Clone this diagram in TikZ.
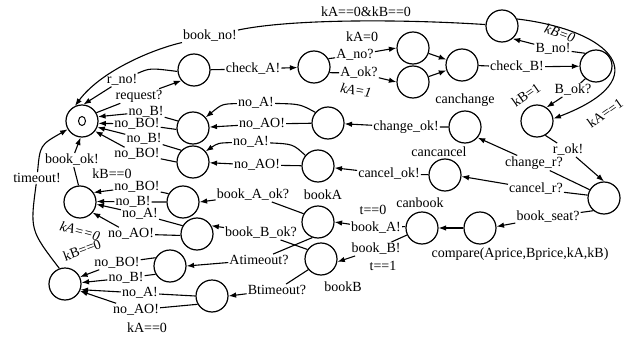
\documentclass[tikz,border=0pt]{standalone}
\usepackage{fontspec}
\setmainfont{Liberation Serif}
\usetikzlibrary{arrows.meta,shapes.geometric}
\begin{document}
\begin{tikzpicture}[x=1pt,y=-1pt,
  st/.style={circle,draw,line width=1.2pt,minimum size=32pt,inner sep=0pt},
  lab/.style={inner sep=1pt,font=\fontsize{14}{14}\selectfont},
  gd/.style={inner sep=1pt,font=\fontsize{14}{14}\selectfont},
  arr/.style={line width=1.1pt,-{Latex[length=7.5pt,width=5.5pt]}},
]
\useasboundingbox (0,0) rectangle (629,337);
% states
\node[st] (I) at (82,121) {};
\node[ellipse,draw,line width=1pt,minimum width=7pt,minimum height=9pt,inner sep=0pt] (Iin) at (82,121) {};
\node[st] (R) at (194,70) {};
\node[st] (CA) at (314,67) {};
\node[st] (AN) at (413,48) {};
\node[st] (AO) at (413,82) {};
\node[st] (M) at (462,65) {};
\node[st] (TR) at (502,26) {};
\node[st] (CB) at (596,66) {};
\node[st] (BK) at (537,121) {};
\node[st] (BIG) at (604,198) {};
\node[st] (CC) at (465,127) {};
\node[st] (CN) at (445,175) {};
\node[st] (CMP) at (480,228) {};
\node[st] (CBK) at (422,228) {};
\node[st] (BA) at (318,222) {};
\node[st] (BB) at (321,259) {};
\node[st] (R2R) at (328,123) {};
\node[st] (R2L) at (193,128) {};
\node[st] (R3R) at (318,166) {};
\node[st] (R3L) at (193,162) {};
\node[st] (BAO) at (183,202) {};
\node[st] (BBO) at (197,234) {};
\node[st] (AT) at (170,266) {};
\node[st] (BT) at (212,296) {};
\node[st] (LM) at (80,202) {};
\node[st] (BL) at (65,284) {};
% labels on edges
\node[lab] (lbn) at (210,36) {book\_no!};
\node[lab] (lrno) at (122,80) {r\_no!};
\node[lab] (lreq) at (139,96) {request?};
\node[lab] (lca) at (253,69) {check\_A!};
\node[lab] (lan) at (355,55) {A\_no?};
\node[lab] (lao) at (359,73) {A\_ok?};
\node[lab] (lcb) at (517,67) {check\_B!};
\node[lab] (lbno) at (553,49) {B\_no!};
\node[lab] (lbok) at (573,90) {B\_ok?};
\node[lab] (lrok) at (568,150) {r\_ok!};
\node[lab] (lchr) at (534,163) {change\_r?};
\node[lab] (lcar) at (536,189) {cancel\_r?};
\node[lab] (lbs) at (548,217) {book\_seat?};
\node[lab] (lba) at (376,228) {book\_A!};
\node[lab] (lbb) at (376,249) {book\_B!};
\node[lab] (lchok) at (406,127) {change\_ok!};
\node[lab] (lcaok) at (389,174) {cancel\_ok!};
\node[lab] (l2a) at (256,103) {no\_A!};
\node[lab] (l2ao) at (262,124) {no\_AO!};
\node[lab] (l3a) at (251,142) {no\_A!};
\node[lab] (l3ao) at (257,165) {no\_AO!};
\node[lab] (l2b) at (146,112) {no\_B!};
\node[lab] (l2bo) at (137,124) {no\_BO!};
\node[lab] (l3b) at (144,139) {no\_B!};
\node[lab] (l3bo) at (137,154) {no\_BO!};
\node[lab] (lbok2) at (72,160) {book\_ok!};
\node[lab] (lto) at (37,178) {timeout!};
\node[lab] (l4bo) at (137,187) {no\_BO!};
\node[lab] (l4b) at (133,202) {no\_B!};
\node[lab] (l4a) at (140,214) {no\_A!};
\node[lab] (l4ao) at (131,234) {no\_AO!};
\node[lab] (lbaok) at (253,195) {book\_A\_ok?};
\node[lab] (lbbok) at (261,233) {book\_B\_ok?};
\node[lab] (lat) at (259,260) {Atimeout?};
\node[lab] (lbt) at (277,290) {Btimeout?};
\node[lab] (l5bo) at (117,263) {no\_BO!};
\node[lab] (l5b) at (126,278) {no\_B!};
\node[lab] (l5a) at (140,293) {no\_A!};
\node[lab] (l5ao) at (136,310) {no\_AO!};
% guards, updates, names
\node[gd] (g1) at (366,12) {kA==0\&kB==0};
\node[gd] (g2) at (362,37) {kA=0};
\node[gd,rotate=-10] (g3) at (356,90) {\itshape kA=1};
\node[gd,rotate=-20] (g4) at (560,33) {\itshape kB=0};
\node[gd,rotate=35] (g5) at (526,95) {kB=1};
\node[gd,rotate=35] (g6) at (605,113) {kA==1};
\node[gd] (t1) at (465,100) {canchange};
\node[gd] (t2) at (439,152) {cancancel};
\node[gd] (t3) at (420,203) {canbook};
\node[gd] (t4) at (520,254) {compare(Aprice,Bprice,kA,kB)};
\node[gd] (g7) at (373,210) {t==0};
\node[gd] (g8) at (383,266) {t==1};
\node[gd] (t5) at (323,195) {bookA};
\node[gd] (t6) at (343,287) {bookB};
\node[gd] (g9) at (112,174) {kB==0};
\node[gd,rotate=-15] (g10) at (80,231) {\itshape kA==0};
\node[gd,rotate=20] (g11) at (82,250) {kB==0};
\node[gd] (g12) at (147,328) {kA==0};
% edges
\draw[arr] (TR.175) .. controls (400,19) and (290,19) .. (lbn) .. controls (150,50) and (100,72) .. (I.115);
\draw[arr] (R.185) .. controls (150,68) .. (lrno) -- (I.85);
\draw[arr] (I.30) -- (lreq) -- (R.220);
\draw[arr] (R) -- (lca) -- (CA);
\draw[arr] (CA.30) -- (lan) -- (AN.west);
\draw[arr] (CA.-20) -- (lao) -- (AO.west);
\draw[arr] (AN) -- (M);
\draw[arr] (AO) -- (M);
\draw[arr] (M) -- (lcb) -- (CB);
\draw[arr] (CB.130) -- (lbno) -- (TR.-50);
\draw[arr] (CB.230) -- (lbok) -- (BK.55);
\draw[arr] (TR.25) .. controls (610,30) and (660,78) .. (BK.8);
\draw[arr] (BK.-60) -- (lrok) -- (BIG.north);
\draw[arr] (BIG.150) -- (lchr) -- (CC.-40);
\draw[arr] (BIG.170) -- (lcar) -- (CN.-5);
\draw[arr] (BIG.-130) -- (lbs) -- (CMP.5);
\draw[arr] (CMP) -- (CBK);
\draw[arr] (CBK.175) -- (lba) -- (BA.east);
\draw[arr] (CBK.-155) -- (lbb) -- (BB.-10);
\draw[arr] (CC) -- (lchok) -- (R2R);
\draw[arr] (CN) -- (lcaok) -- (R3R);
\draw[arr] (R2R.140) .. controls (300,104) .. (l2a) .. controls (222,104) .. (R2L.40);
\draw[arr] (R2R) -- (l2ao) -- (R2L);
\draw[arr] (R3R.140) .. controls (293,144) .. (l3a) .. controls (218,143) .. (R3L.40);
\draw[arr] (R3R) -- (l3ao) -- (R3L);
\draw[arr] (R2L.155) -- (l2b) -- (I.15);
\draw[arr] (R2L.185) -- (l2bo) -- (I.-8);
\draw[arr] (R3L.135) -- (l3b) -- (I.-22);
\draw[arr] (R3L.180) -- (l3bo) -- (I.-38);
\draw[arr] (LM.95) -- (lbok2) -- (I.-95);
\draw[arr] (BL.110) .. controls (30,230) .. (lto) .. controls (40,145) .. (I.-150);
\draw[arr] (BAO.150) -- (l4bo) -- (LM.35);
\draw[arr] (BAO.180) -- (l4b) -- (LM.2);
\draw[arr] (BBO.150) -- (l4a) -- (LM.-8);
\draw[arr] (BBO.185) -- (l4ao) -- (LM.-40);
\draw[arr] (BA.150) -- (lbaok) -- (BAO.east);
\draw[arr] (BB.145) -- (lbbok) -- (BBO.30);
\draw[arr] (BA.-110) -- (lat) -- (AT.east);
\draw[arr] (BB.-140) -- (lbt) -- (BT.east);
\draw[arr] (AT.150) -- (l5bo) -- (BL.25);
\draw[arr] (AT.-150) -- (l5b) -- (BL.5);
\draw[arr] (BT.180) -- (l5a) -- (BL.-20);
\draw[arr] (BT.-150) -- (l5ao) -- (BL.-25);
\end{tikzpicture}
\end{document}
